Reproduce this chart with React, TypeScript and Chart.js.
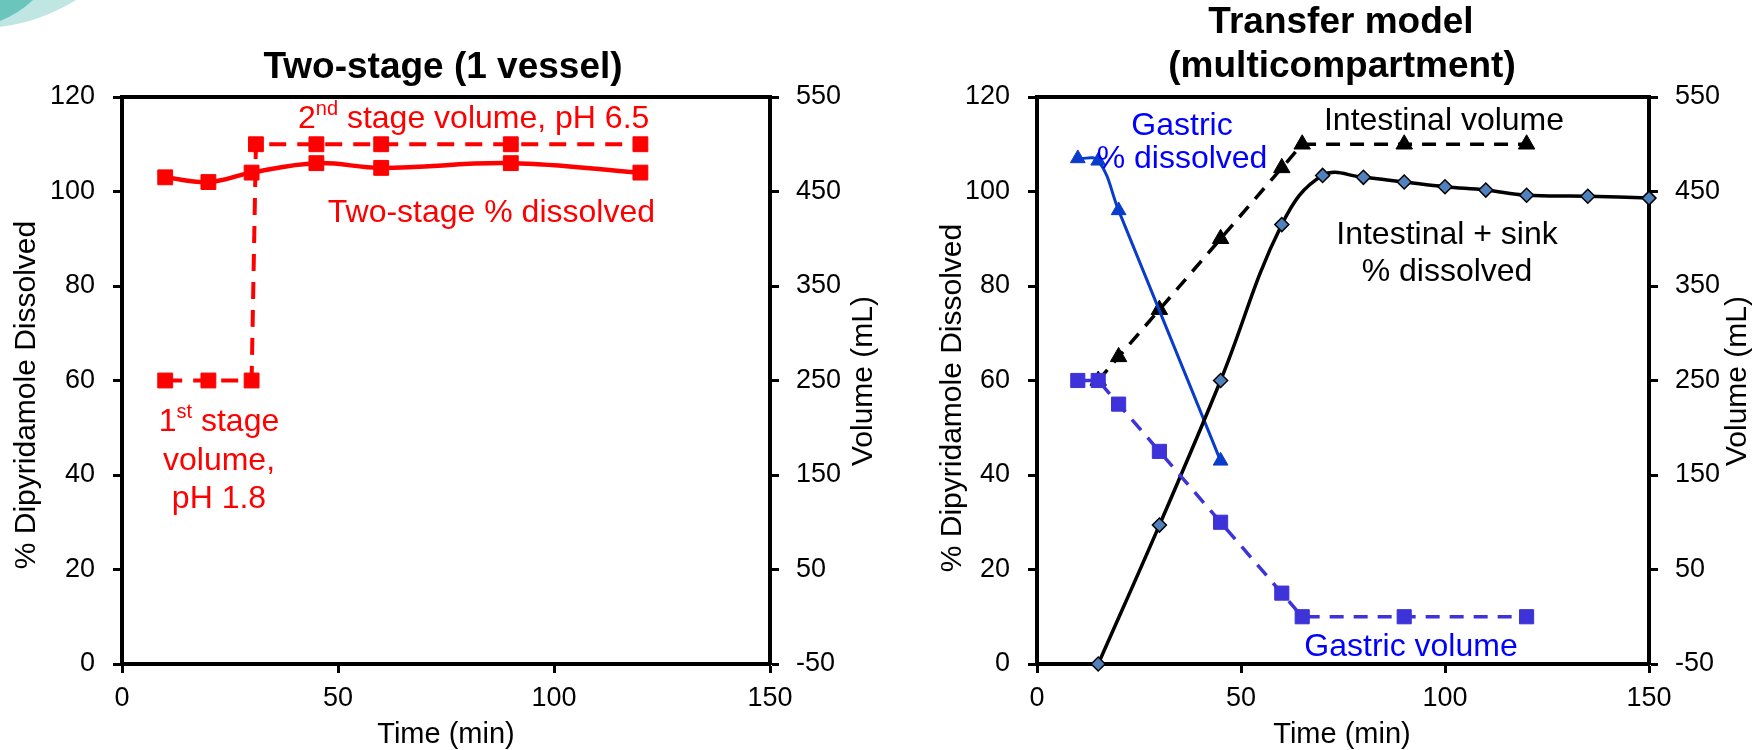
import React, { useEffect, useRef } from 'react';
import { Chart, registerables } from 'chart.js';

Chart.register(...registerables);

// ---------- data ----------
const timeTicks = [0, 50, 100, 150];
const pctTicks = [0, 20, 40, 60, 80, 100, 120];
const volTicks = [-50, 50, 150, 250, 350, 450, 550];

// Left: Two-stage (1 vessel)
const twoStageTime = [10, 20, 30, 45, 60, 90, 120];
const twoStageDissolved = [103, 102, 104, 106, 105, 106, 104];
const twoStageVolTime = [10, 20, 30, 31, 45, 60, 90, 120];
const twoStageVolume = [250, 250, 250, 500, 500, 500, 500, 500];

// Right: Transfer model (multicompartment)
const gastricDissTime = [10, 15, 20, 45];
const gastricDissolved = [107, 106.5, 96, 43];
const gastricVolTime = [10, 15, 20, 30, 45, 60, 65, 90, 120];
const gastricVolume = [250, 250, 225, 175, 100, 25, 0, 0, 0];
const intVolTime = [15, 20, 30, 45, 60, 65, 90, 120];
const intestinalVolume = [250, 275, 325, 400, 475, 500, 500, 500];
const sinkTime = [15, 30, 45, 60, 70, 80, 90, 100, 110, 120, 135, 150];
const sinkDissolved = [0, 29.4, 60, 93, 103.4, 103, 102, 101, 100.3, 99.2, 99, 98.6];

// ---------- styling ----------
const FONT = '"Liberation Sans", Arial, sans-serif';
const RED = '#ff0000';
const BLACK = '#000000';
const TEXT_BLUE = '#0000ff';
const GASTRIC_LINE = '#0a3ccc';
const GASTRIC_SQ = '#3d33d8';
const DIAMOND = '#4f81bd';
const ANN = 32;
const TITLE = 37;
const AXT = 30;

const pts = (xs: number[], ys: number[]) => xs.map((x, i) => ({ x, y: ys[i] }));

function makeScales(leftW: number, rightW: number, bottomH: number) {
  const tickFont = { family: FONT, size: 27 };
  const grid = {
    display: true,
    drawOnChartArea: false,
    drawTicks: true,
    tickLength: 9,
    tickWidth: 3,
    color: BLACK,
  };
  const border = { display: true, color: BLACK, width: 4 };
  return {
    x: {
      type: 'linear',
      position: 'bottom',
      min: 0,
      max: 150,
      border,
      grid,
      ticks: { color: BLACK, font: tickFont, padding: 9, maxRotation: 0 },
      afterBuildTicks: (s: any) => { s.ticks = timeTicks.map((v) => ({ value: v })); },
      afterFit: (s: any) => { s.height = bottomH; },
    },
    y: {
      type: 'linear',
      position: 'left',
      min: 0,
      max: 120,
      border,
      grid,
      ticks: { color: BLACK, font: tickFont, padding: 18 },
      afterBuildTicks: (s: any) => { s.ticks = pctTicks.map((v) => ({ value: v })); },
      afterFit: (s: any) => { s.width = leftW; },
    },
    y1: {
      type: 'linear',
      position: 'right',
      min: -50,
      max: 550,
      border,
      grid,
      ticks: { color: BLACK, font: tickFont, padding: 17 },
      afterBuildTicks: (s: any) => { s.ticks = volTicks.map((v) => ({ value: v })); },
      afterFit: (s: any) => { s.width = rightW; },
    },
  };
}

type Part = { t: string; sup?: boolean };

function drawParts(ctx: CanvasRenderingContext2D, parts: Part[], x: number, y: number, size: number, color: string, align: 'left' | 'center' | 'right', bold = false) {
  const supSize = Math.round(size * 0.62);
  const f = (s: number) => `${bold ? 'bold ' : ''}${s}px ${FONT}`;
  let total = 0;
  const widths = parts.map((p) => {
    ctx.font = f(p.sup ? supSize : size);
    const w = ctx.measureText(p.t).width;
    total += w;
    return w;
  });
  let cx = align === 'left' ? x : align === 'center' ? x - total / 2 : x - total;
  ctx.save();
  ctx.fillStyle = color;
  ctx.textAlign = 'left';
  ctx.textBaseline = 'middle';
  parts.forEach((p, i) => {
    ctx.font = f(p.sup ? supSize : size);
    ctx.fillText(p.t, cx, p.sup ? y - size * 0.3 : y);
    cx += widths[i];
  });
  ctx.restore();
}

function drawText(ctx: CanvasRenderingContext2D, t: string, x: number, y: number, size: number, color: string, align: CanvasTextAlign = 'center', bold = false, rot = 0) {
  ctx.save();
  ctx.translate(x, y);
  if (rot) ctx.rotate(rot);
  ctx.font = `${bold ? 'bold ' : ''}${size}px ${FONT}`;
  ctx.fillStyle = color;
  ctx.textAlign = align;
  ctx.textBaseline = 'middle';
  ctx.fillText(t, 0, 0);
  ctx.restore();
}

const topBorderPlugin = {
  id: 'topBorder',
  beforeDatasetsDraw(chart: any) {
    const { ctx, chartArea } = chart;
    ctx.save();
    ctx.strokeStyle = BLACK;
    ctx.lineWidth = 4;
    ctx.beginPath();
    ctx.moveTo(chartArea.left - 2, chartArea.top);
    ctx.lineTo(chartArea.right + 2, chartArea.top);
    ctx.stroke();
    ctx.restore();
  },
};

const leftTextPlugin = {
  id: 'leftText',
  afterDraw(chart: any) {
    const ctx: CanvasRenderingContext2D = chart.ctx;
    // decorative swoosh in the corner
    ctx.save();
    ctx.fillStyle = '#bfe6e2';
    ctx.beginPath();
    ctx.moveTo(0, 0);
    ctx.lineTo(76, 0);
    ctx.quadraticCurveTo(40, 22, 0, 27);
    ctx.closePath();
    ctx.fill();
    ctx.fillStyle = '#6cc5bc';
    ctx.beginPath();
    ctx.moveTo(0, 0);
    ctx.lineTo(33, 0);
    ctx.quadraticCurveTo(18, 14, 0, 21);
    ctx.closePath();
    ctx.fill();
    ctx.restore();

    drawText(ctx, 'Two-stage (1 vessel)', 443, 68, TITLE, BLACK, 'center', true);
    drawParts(ctx, [{ t: '2' }, { t: 'nd', sup: true }, { t: ' stage volume, pH 6.5' }], 298, 119, ANN, RED, 'left');
    drawText(ctx, 'Two-stage % dissolved', 655, 213, ANN, RED, 'right');
    drawParts(ctx, [{ t: '1' }, { t: 'st', sup: true }, { t: ' stage' }], 219, 422, ANN, RED, 'center');
    drawText(ctx, 'volume,', 219, 461, ANN, RED, 'center');
    drawText(ctx, 'pH 1.8', 219, 499, ANN, RED, 'center');
    drawText(ctx, '% Dipyridamole Dissolved', 27, 395, AXT, BLACK, 'center', false, -Math.PI / 2);
    drawText(ctx, 'Volume (mL)', 864, 381, AXT, BLACK, 'center', false, -Math.PI / 2);
    drawText(ctx, 'Time (min)', 446, 735, 29, BLACK, 'center');
  },
};

const OFF = 880;
const rightTextPlugin = {
  id: 'rightText',
  afterDraw(chart: any) {
    const ctx: CanvasRenderingContext2D = chart.ctx;
    drawText(ctx, 'Transfer model', 1341 - OFF, 23, TITLE, BLACK, 'center', true);
    drawText(ctx, '(multicompartment)', 1342 - OFF, 67, TITLE, BLACK, 'center', true);
    drawText(ctx, 'Gastric', 1182 - OFF, 126, ANN, TEXT_BLUE, 'center');
    drawText(ctx, '% dissolved', 1182 - OFF, 159, ANN, TEXT_BLUE, 'center');
    drawText(ctx, 'Intestinal volume', 1444 - OFF, 121, ANN, BLACK, 'center');
    drawText(ctx, 'Intestinal + sink', 1447 - OFF, 235, ANN, BLACK, 'center');
    drawText(ctx, '% dissolved', 1447 - OFF, 272, ANN, BLACK, 'center');
    drawText(ctx, 'Gastric volume', 1411 - OFF, 647, ANN, TEXT_BLUE, 'center');
    drawText(ctx, '% Dipyridamole Dissolved', 953 - OFF, 398, AXT, BLACK, 'center', false, -Math.PI / 2);
    drawText(ctx, 'Volume (mL)', 1738 - OFF, 381, AXT, BLACK, 'center', false, -Math.PI / 2);
    drawText(ctx, 'Time (min)', 1342 - OFF, 735, 29, BLACK, 'center');
  },
};

function baseOptions(leftW: number, rightW: number) {
  return {
    responsive: false,
    animation: false,
    events: [],
    layout: { padding: { top: 97, left: 0, right: 0, bottom: 0 } },
    plugins: { legend: { display: false }, tooltip: { enabled: false }, title: { display: false } },
    scales: makeScales(leftW, rightW, 86),
  } as any;
}

function LeftChart() {
  const ref = useRef<HTMLCanvasElement>(null);
  useEffect(() => {
    if (!ref.current) return;
    const chart = new Chart(ref.current, {
      type: 'line',
      data: {
        datasets: [
          {
            label: 'Two-stage % dissolved',
            data: pts(twoStageTime, twoStageDissolved),
            yAxisID: 'y',
            borderColor: RED,
            backgroundColor: RED,
            borderWidth: 4.5,
            pointStyle: 'rect',
            pointRadius: 10.5,
            pointBorderWidth: 1,
            pointBorderColor: RED,
            pointBackgroundColor: RED,
            tension: 0.4,
            clip: false,
            order: 0,
          },
          {
            label: 'Volume',
            data: pts(twoStageVolTime, twoStageVolume),
            yAxisID: 'y1',
            borderColor: RED,
            backgroundColor: RED,
            borderWidth: 4,
            borderDash: [17, 11],
            pointStyle: 'rect',
            pointRadius: 10.5,
            pointBorderWidth: 1,
            pointBorderColor: RED,
            pointBackgroundColor: RED,
            tension: 0,
            clip: false,
            order: 1,
          },
        ],
      } as any,
      options: baseOptions(122, 110),
      plugins: [topBorderPlugin, leftTextPlugin],
    });
    return () => chart.destroy();
  }, []);
  return <canvas ref={ref} width={880} height={750} style={{ position: 'absolute', left: 0, top: 0 }} />;
}

function RightChart() {
  const ref = useRef<HTMLCanvasElement>(null);
  useEffect(() => {
    if (!ref.current) return;
    const chart = new Chart(ref.current, {
      type: 'line',
      data: {
        datasets: [
          {
            label: 'Gastric volume',
            data: pts(gastricVolTime, gastricVolume),
            yAxisID: 'y1',
            borderColor: GASTRIC_SQ,
            backgroundColor: GASTRIC_SQ,
            borderWidth: 3.5,
            borderDash: [14, 10],
            pointStyle: 'rect',
            pointRadius: 10,
            pointBorderWidth: 1,
            pointBorderColor: GASTRIC_SQ,
            pointBackgroundColor: GASTRIC_SQ,
            tension: 0,
            clip: false,
            order: 0,
          },
          {
            label: 'Intestinal + sink % dissolved',
            data: pts(sinkTime, sinkDissolved),
            yAxisID: 'y',
            borderColor: BLACK,
            backgroundColor: DIAMOND,
            borderWidth: 3.5,
            pointStyle: 'rectRot',
            pointRadius: 7,
            pointBorderWidth: 1.5,
            pointBorderColor: BLACK,
            pointBackgroundColor: DIAMOND,
            tension: 0.4,
            clip: false,
            order: 1,
          },
          {
            label: 'Gastric % dissolved',
            data: pts(gastricDissTime, gastricDissolved),
            yAxisID: 'y',
            borderColor: GASTRIC_LINE,
            backgroundColor: GASTRIC_LINE,
            borderWidth: 3,
            pointStyle: 'triangle',
            pointRadius: 8.5,
            pointBorderWidth: 1,
            pointBorderColor: GASTRIC_LINE,
            pointBackgroundColor: GASTRIC_LINE,
            tension: 0.4,
            clip: false,
            order: 2,
          },
          {
            label: 'Intestinal volume',
            data: pts(intVolTime, intestinalVolume),
            yAxisID: 'y1',
            borderColor: BLACK,
            backgroundColor: BLACK,
            borderWidth: 3.5,
            borderDash: [14, 10],
            pointStyle: 'triangle',
            pointRadius: 9.5,
            pointBorderWidth: 1,
            pointBorderColor: BLACK,
            pointBackgroundColor: BLACK,
            tension: 0,
            clip: false,
            order: 3,
          },
        ],
      } as any,
      options: baseOptions(157, 112),
      plugins: [topBorderPlugin, rightTextPlugin],
    });
    return () => chart.destroy();
  }, []);
  return <canvas ref={ref} width={881} height={750} style={{ position: 'absolute', left: 880, top: 0 }} />;
}

export default function App() {
  return (
    <div style={{ position: 'absolute', left: 0, top: 0, width: 1761, height: 750, background: '#ffffff', overflow: 'hidden' }}>
      <LeftChart />
      <RightChart />
    </div>
  );
}
